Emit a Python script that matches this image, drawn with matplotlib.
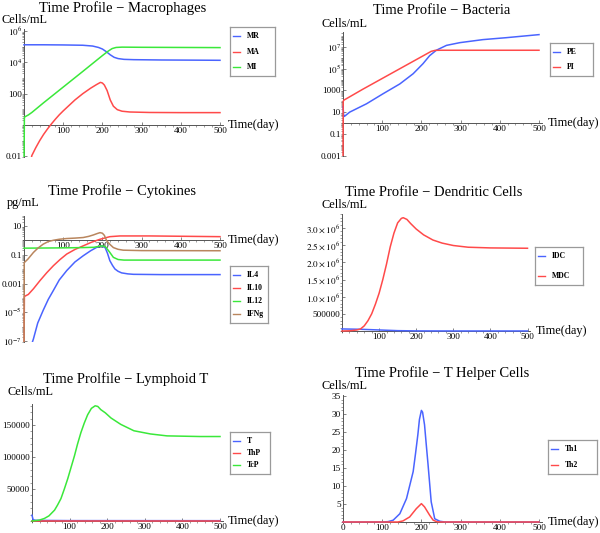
import numpy as np
import matplotlib
matplotlib.use("Agg")
import matplotlib.pyplot as plt
from matplotlib.ticker import FixedLocator, MultipleLocator, LogLocator, NullFormatter

plt.rcParams['font.family'] = ['Liberation Serif', 'DejaVu Serif']
plt.rcParams['mathtext.fontset'] = 'stix'

BLUE = '#4a64ff'
RED = '#ff4a4a'
GREEN = '#3ae83a'
BROWN = '#b9865e'

# ---- Macrophages (log10 cells/mL) ----
mr_t = [0, 50, 100, 150, 175, 190, 200, 210, 220, 230, 240, 255, 280, 350, 430, 500]
mr_log = [5.12, 5.12, 5.11, 5.09, 5.04, 4.95, 4.85, 4.68, 4.48, 4.32, 4.24, 4.19, 4.17, 4.15, 4.14, 4.13]
ma_t = [15, 20, 30, 40, 50, 60, 70, 80, 90, 100, 115, 130, 150, 170, 185, 195, 200, 205, 212,
        220, 228, 238, 250, 270, 320, 400, 500]
ma_log = [-2.5, -1.95, -1.45, -1.0, -0.6, -0.25, 0.07, 0.37, 0.65, 0.9, 1.25, 1.6, 2.0, 2.35, 2.58,
          2.72, 2.68, 2.55, 2.2, 1.6, 1.2, 0.98, 0.88, 0.83, 0.8, 0.79, 0.79]
mi_t = [0, 1, 5, 11, 20, 50, 100, 150, 200, 215, 225, 235, 250, 300, 400, 500]
mi_log = [-2.5, 0.5, 0.56, 0.64, 0.8, 1.42, 2.42, 3.42, 4.43, 4.72, 4.88, 4.95, 4.97, 4.96, 4.95, 4.94]

# ---- Bacteria (log10 cells/mL) ----
pe_t = [0, 2, 5, 17, 60, 102, 145, 179, 204, 221, 238, 264, 298, 357, 417, 500]
pe_log = [1.5, 0.6, 0.65, 1.0, 1.77, 2.69, 3.6, 4.54, 5.46, 6.2, 6.7, 7.15, 7.4, 7.68, 7.86, 8.14]
pi_t = [0, 0.5, 2, 50, 100, 150, 200, 215, 225, 235, 250, 350, 500]
pi_log = [-3.5, 2.0, 2.1, 3.1, 4.1, 5.1, 6.1, 6.4, 6.6, 6.69, 6.7, 6.7, 6.7]

# ---- Cytokines (log10 pg/mL) ----
il4_t = [15, 24, 35, 49, 62, 75, 90, 109, 130, 151, 170, 185, 198, 207, 213, 219, 226, 232, 240,
         249, 265, 279, 350, 500]
il4_log = [-7.6, -6.86, -5.75, -4.86, -4.1, -3.48, -2.75, -2.1, -1.5, -1.07, -0.72, -0.49, -0.38,
           -0.5, -0.9, -1.41, -1.75, -1.99, -2.15, -2.26, -2.33, -2.36, -2.38, -2.38]
il10_t = [0, 1, 11, 24, 41, 58, 75, 92, 109, 130, 151, 172, 194, 219, 245, 321, 500]
il10_log = [-8.0, -3.9, -3.76, -3.37, -2.79, -2.25, -1.76, -1.33, -0.95, -0.63, -0.38, -0.13, 0.08,
            0.26, 0.31, 0.31, 0.26]
il12_t = [0, 100, 150, 178, 190, 200, 208, 218, 228, 240, 255, 500]
il12_log = [-0.54, -0.52, -0.5, -0.48, -0.42, -0.38, -0.45, -0.8, -1.18, -1.33, -1.37, -1.37]
ifng_t = [0, 0.5, 10, 24, 35, 49, 62, 75, 90, 109, 130, 151, 165, 177, 187, 194, 200, 205, 211,
          220, 228, 240, 253, 300, 500]
ifng_log = [-8.0, -1.55, -1.3, -0.84, -0.55, -0.26, -0.08, 0.01, 0.08, 0.13, 0.16, 0.2, 0.28, 0.38,
            0.48, 0.54, 0.5, 0.35, -0.03, -0.3, -0.5, -0.62, -0.68, -0.71, -0.72]

# ---- Dendritic cells (millions of cells/mL) ----
idc_t = [0, 50, 100, 150, 200, 300, 500]
idc_m = [0.06, 0.05, 0.03, 0.01, 0.003, 0.001, 0.001]
mdc_t = [0, 20, 40, 50, 60, 70, 80, 90, 100, 110, 120, 130, 140, 150, 160, 165, 175, 185, 200,
         220, 245, 270, 300, 340, 400, 500]
mdc_m = [0.0, 0.005, 0.03, 0.06, 0.15, 0.3, 0.5, 0.78, 1.1, 1.5, 1.95, 2.45, 2.85, 3.15, 3.28, 3.3,
         3.25, 3.13, 2.97, 2.8, 2.65, 2.56, 2.49, 2.44, 2.42, 2.41]

# ---- Lymphoid T (thousands of cells/mL) ----
t_t = [0, 3, 10, 50, 100, 500]
t_k = [9, 2, 1, 0.8, 0.6, 0.5]
thp_t = [0, 500]
thp_k = [0.2, 0.2]
tcp_t = [0, 7, 20, 33, 45, 60, 68, 77, 86, 95, 104, 113, 121, 130, 139, 148, 158, 168, 175, 183,
         195, 210, 236, 271, 315, 359, 447, 500]
tcp_k = [0, 0.5, 1.5, 4, 8, 17, 25, 35, 50, 66, 84, 102, 120, 138, 153, 166, 176, 180, 179, 174,
         169, 161, 151, 141, 136, 133, 132, 132]

# ---- T helper cells ----
th1_t = [0, 100, 115, 128, 145, 162, 179, 185, 191, 195, 200, 203, 208, 212, 217, 225, 234, 247, 260, 500]
th1_v = [0, 0, 0.1, 0.5, 2.3, 6.5, 14, 19, 24.3, 28.5, 31, 30.5, 27, 22, 15.9, 5.6, 0.9, 0.2, 0, 0]
th2_t = [0, 140, 153, 170, 187, 200, 208, 221, 230, 240, 250, 500]
th2_v = [0, 0, 0.3, 1.4, 3.7, 5.1, 4.2, 1.9, 0.5, 0.05, 0, 0]

W, H = 600, 533
fig = plt.figure(figsize=(W / 100, H / 100), dpi=100)
AX_COL = '#555555'


def make_axes(t0_px, scale, logy, ya, pa, yb, pb, ylim, cross):
    xlim = (-3, 507)
    left = t0_px + xlim[0] * scale
    right = t0_px + xlim[1] * scale
    f = np.log10 if logy else (lambda v: v)
    k = (pb - pa) / (f(yb) - f(ya))
    bot = pa + (f(ylim[0]) - f(ya)) * k
    top = pa + (f(ylim[1]) - f(ya)) * k
    ax = fig.add_axes([left / W, 1 - bot / H, (right - left) / W, (bot - top) / H])
    ax.patch.set_alpha(0)
    if logy:
        ax.set_yscale('log')
    ax.set_xlim(*xlim)
    ax.set_ylim(*ylim)
    ax.spines['left'].set_position(('data', 0))
    ax.spines['bottom'].set_position(('data', cross))
    ax.spines['top'].set_visible(False)
    ax.spines['right'].set_visible(False)
    for s in ('left', 'bottom'):
        ax.spines[s].set_color(AX_COL)
        ax.spines[s].set_linewidth(0.7)
        ax.spines[s].set_zorder(1)
    ax.tick_params(which='major', length=2.5, width=0.5, color=AX_COL, labelsize=6.6, pad=1.5)
    ax.tick_params(which='minor', length=1.3, width=0.4, color=AX_COL)
    ax.tick_params(axis='x', direction='in')
    ax.tick_params(axis='y', direction='in')
    ax.xaxis.set_major_locator(FixedLocator([100, 200, 300, 400, 500]))
    ax.xaxis.set_minor_locator(MultipleLocator(20))
    return ax


def set_log_ticks(ax, vals, labels):
    ax.yaxis.set_major_locator(FixedLocator(vals))
    ax.set_yticklabels(labels)
    ax.yaxis.set_minor_locator(LogLocator(base=10, subs=np.arange(1, 10), numticks=40))
    ax.yaxis.set_minor_formatter(NullFormatter())


def labels(ax_title, title_xy, unit, unit_xy, time_xy):
    fig.text(title_xy[0] / W, 1 - title_xy[1] / H, ax_title, ha='center', va='center', fontsize=10.5)
    fig.text(unit_xy[0] / W, 1 - unit_xy[1] / H, unit, ha='left', va='center', fontsize=8.8)
    fig.text(time_xy[0] / W, 1 - time_xy[1] / H, 'Time(day)', ha='left', va='center', fontsize=8.8)


def legend_box(box, names, colors):
    x0, y0, x1, y1 = box
    w, h = x1 - x0, y1 - y0
    lax = fig.add_axes([x0 / W, 1 - y1 / H, w / W, h / H])
    lax.set_xlim(0, w)
    lax.set_ylim(h, 0)
    lax.set_xticks([])
    lax.set_yticks([])
    for sp in lax.spines.values():
        sp.set_color('#9a9a9a')
        sp.set_linewidth(0.9)
    n = len(names)
    pad = 9
    step = (h - 2 * pad) / (n - 1)
    for i, (nm, c) in enumerate(zip(names, colors)):
        y = pad + i * step
        lax.plot([3, 10], [y, y], color=c, lw=1.0)
        lax.text(17, y, nm, ha='left', va='center', fontsize=5.6, fontweight='bold')


LW = 1.1

# Macrophages
ax = make_axes(24, 0.392, True, 1, 125, 1e6, 31, (10 ** -2.05, 10 ** 6.12), 1)
ax.plot(mr_t, 10 ** np.array(mr_log), color=BLUE, lw=LW)
ax.plot(ma_t, 10 ** np.array(ma_log), color=RED, lw=LW)
ax.plot(mi_t, 10 ** np.array(mi_log), color=GREEN, lw=LW)
set_log_ticks(ax, [1e-2, 1e2, 1e4, 1e6], ['0.01', '100', '$10^4$', '$10^6$'])
labels('Time Profile \u2212 Macrophages', (123, 8), 'Cells/mL', (2, 20), (228, 125))
legend_box((230, 27, 275, 76), ['MR', 'MA', 'MI'], [BLUE, RED, GREEN])

# Bacteria
ax = make_axes(343, 0.392, True, 1, 123, 1e7, 47, (10 ** -3.05, 10 ** 8.4), 1)
ax.plot(pe_t, 10 ** np.array(pe_log), color=BLUE, lw=LW)
ax.plot(pi_t, 10 ** np.array(pi_log), color=RED, lw=LW)
set_log_ticks(ax, [1e-3, 1e-1, 1e1, 1e3, 1e5, 1e7], ['0.001', '0.1', '10', '1000', '$10^5$', '$10^7$'])
labels('Time Profile \u2212 Bacteria', (442, 10), 'Cells/mL', (321, 24), (548, 123))
legend_box((550, 43, 593, 76), ['PE', 'PI'], [BLUE, RED])

# Cytokines
ax = make_axes(24, 0.392, True, 1, 240.4, 1e-7, 341, (10 ** -7.05, 10 ** 1.7), 1)
ax.plot(il4_t, 10 ** np.array(il4_log), color=BLUE, lw=LW)
ax.plot(il10_t, 10 ** np.array(il10_log), color=RED, lw=LW)
ax.plot(il12_t, 10 ** np.array(il12_log), color=GREEN, lw=LW)
ax.plot(ifng_t, 10 ** np.array(ifng_log), color=BROWN, lw=LW)
set_log_ticks(ax, [1e-7, 1e-5, 1e-3, 1e-1, 1e1], ['$10^{-7}$', '$10^{-5}$', '0.001', '0.1', '10'])
labels('Time Profile \u2212 Cytokines', (122, 191), 'pg/mL', (7, 203), (228, 240))
legend_box((230, 266, 268, 323), ['IL4', 'IL10', 'IL12', 'IFNg'], [BLUE, RED, GREEN, BROWN])

# Dendritic cells
ax = make_axes(342, 0.371, False, 0, 331, 3e6, 228, (-2e4, 3.4e6), 0)
ax.plot(idc_t, np.array(idc_m) * 1e6, color=BLUE, lw=LW)
ax.plot(mdc_t, np.array(mdc_m) * 1e6, color=RED, lw=LW)
ax.yaxis.set_major_locator(FixedLocator([5e5, 1e6, 1.5e6, 2e6, 2.5e6, 3e6]))
ax.set_yticklabels(['500000', r'$1.0\times10^6$', r'$1.5\times10^6$', r'$2.0\times10^6$',
                    r'$2.5\times10^6$', r'$3.0\times10^6$'])
ax.yaxis.set_minor_locator(MultipleLocator(1e5))
labels('Time Profile \u2212 Dendritic Cells', (434, 193), 'Cells/mL', (322, 205), (536, 331))
legend_box((535, 247, 583, 285), ['IDC', 'MDC'], [BLUE, RED])

# Lymphoid T
ax = make_axes(32, 0.376, False, 0, 521, 150000, 425, (-1500, 183000), 0)
ax.plot(t_t, np.array(t_k) * 1000, color=BLUE, lw=LW)
ax.plot(thp_t, np.array(thp_k) * 1000, color=RED, lw=LW)
ax.plot(tcp_t, np.array(tcp_k) * 1000, color=GREEN, lw=LW)
ax.yaxis.set_major_locator(FixedLocator([50000, 100000, 150000]))
ax.set_yticklabels(['50000', '100000', '150000'])
ax.yaxis.set_minor_locator(MultipleLocator(10000))
labels('Time Prolfile \u2212 Lymphoid T', (126, 379), 'Cells/mL', (8, 392), (228, 521))
legend_box((230, 432, 270, 474), ['T', 'ThP', 'TcP'], [BLUE, RED, GREEN])

# T helper cells
ax = make_axes(343, 0.392, False, 0, 522, 35, 396, (-0.3, 35.2), 0)
ax.plot(th1_t, th1_v, color=BLUE, lw=LW)
ax.plot(th2_t, th2_v, color=RED, lw=LW)
ax.xaxis.set_major_locator(FixedLocator([0, 100, 200, 300, 400, 500]))
ax.yaxis.set_major_locator(FixedLocator([5, 10, 15, 20, 25, 30, 35]))
ax.yaxis.set_minor_locator(MultipleLocator(1))
labels('Time Profile \u2212 T Helper Cells', (442, 373), 'Cells/mL', (322, 386), (548, 522))
legend_box((548, 440, 597, 474), ['Th1', 'Th2'], [BLUE, RED])

fig.savefig('out.png', dpi=100)
